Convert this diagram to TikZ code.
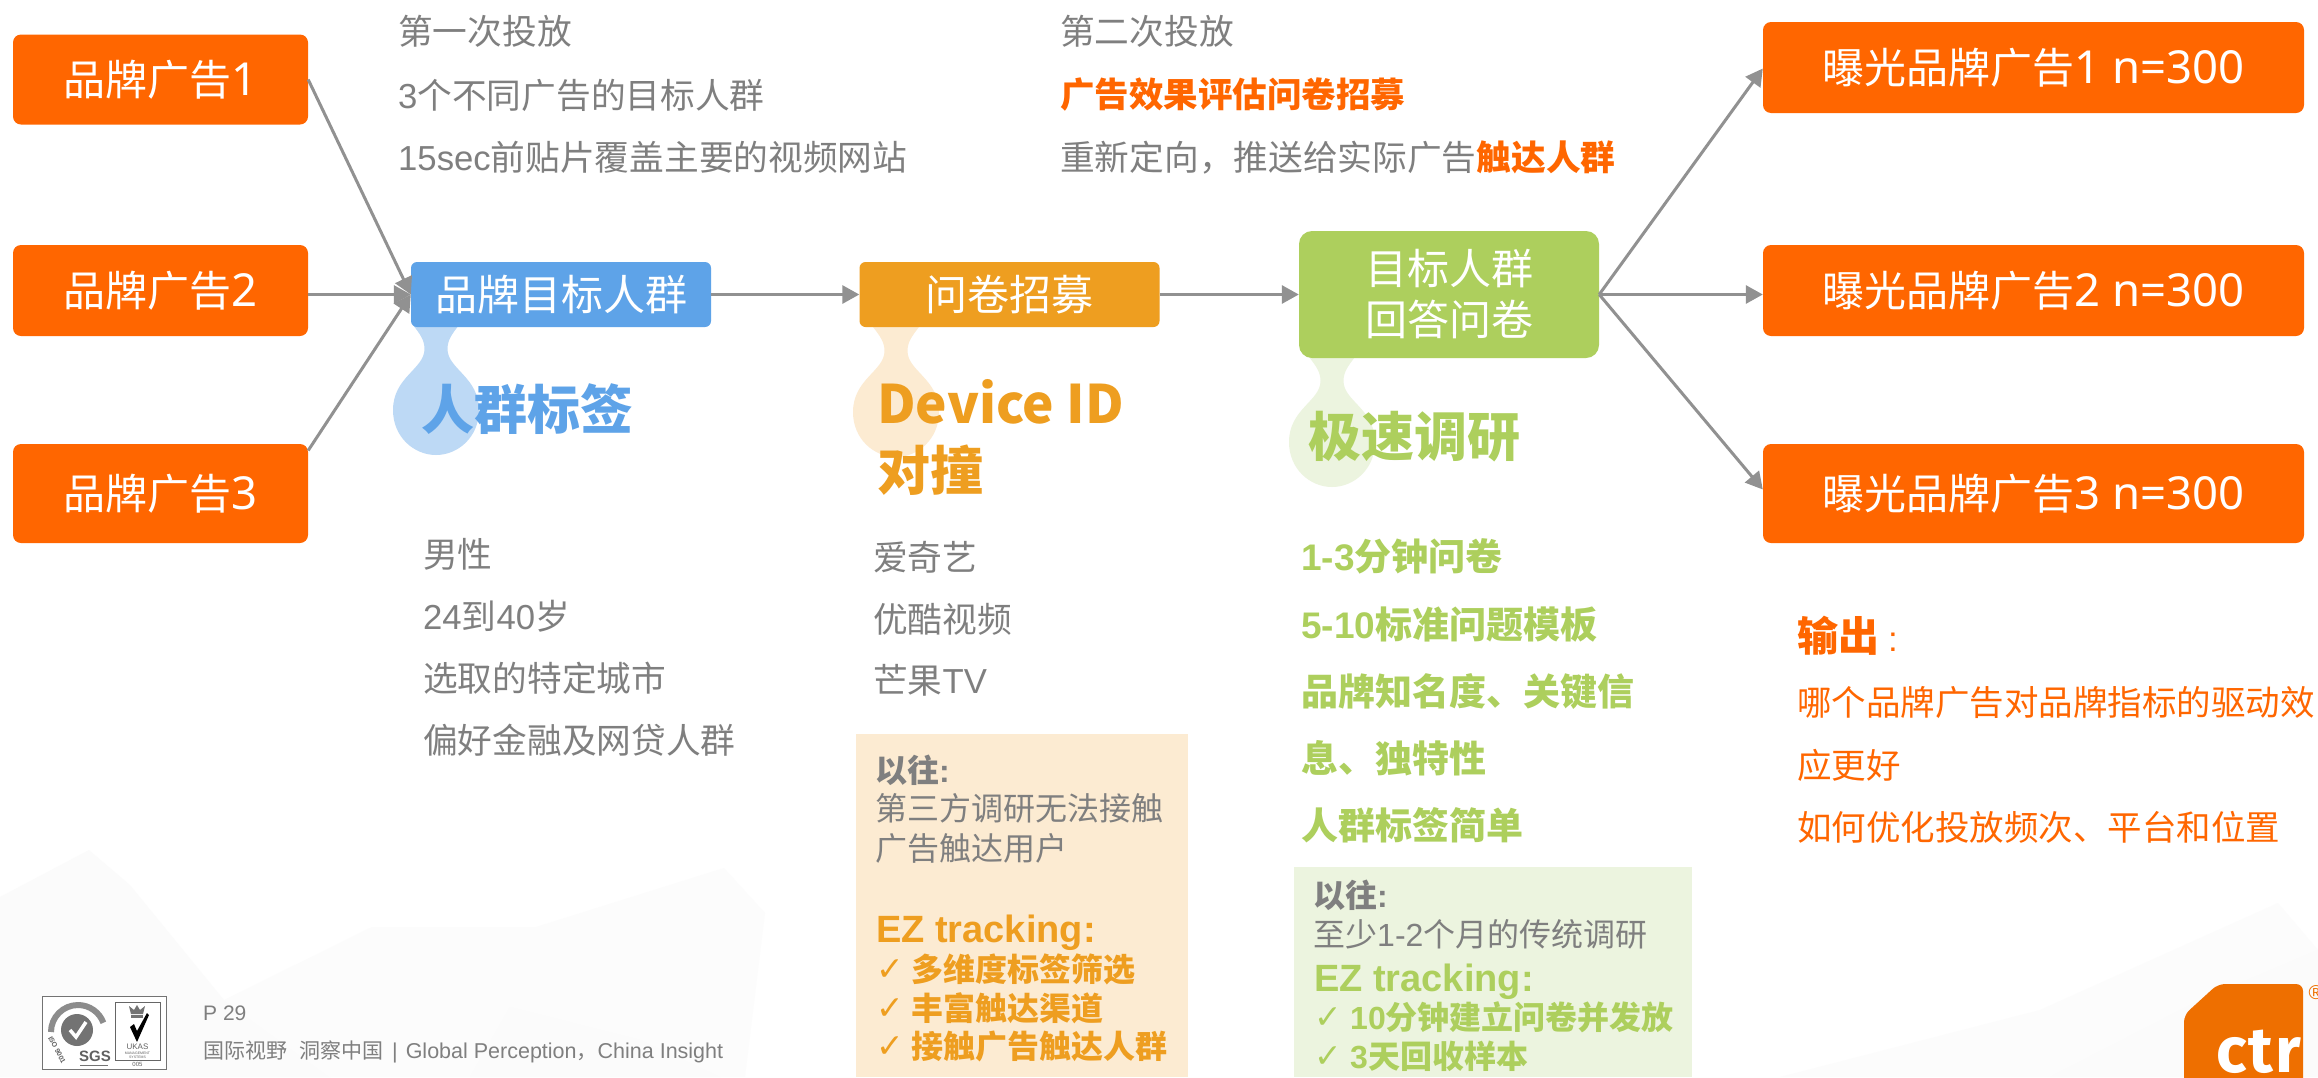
\documentclass[tikz,border=0pt]{standalone}
\usepackage{fontspec}
\setmainfont{Noto Sans CJK SC}
\newfontfamily\arialf{Liberation Sans}
\newfontfamily\notof{Noto Sans}
\newfontfamily\dejaf{DejaVu Sans}
\newfontfamily\firaf{Fira Sans}
\usetikzlibrary{arrows.meta}
\newcommand\fsz[1]{\fontsize{#1}{#1}\selectfont}
\newcommand\lat[1]{{\arialf #1}}
\newcommand\nlat[1]{{\notof\fsz{45.5}#1}}
\definecolor{cOrange}{HTML}{FF6600}
\definecolor{cBlue}{HTML}{5EA3E8}
\definecolor{cAmber}{HTML}{EE9E20}
\definecolor{cGreen}{HTML}{ADCF5D}
\definecolor{cBlueL}{HTML}{BDD9F5}
\definecolor{cAmberL}{HTML}{FCEBD2}
\definecolor{cGreenL}{HTML}{ECF4DF}
\definecolor{cGray}{HTML}{7F7F7F}
\definecolor{cLine}{HTML}{919191}
\definecolor{cLogo}{HTML}{EE6F00}
\tikzset{
  flowbox/.style={inner sep=0,text=white,font=\fsz{42},align=center},
  obox/.style={flowbox,fill=cOrange,rounded corners=8pt},
  conn/.style={draw=cLine,line width=3pt,-{Triangle[length=17pt,width=18pt]},shorten <=0pt},
  txt/.style={anchor=west,inner sep=0,execute at begin node=\vphantom{\normalfont 国}},
  gtxt/.style={txt,text=cGray,font=\fsz{34.7}},
  otxt/.style={txt,text=cOrange,font=\fsz{34.5}},
  ohead/.style={txt,text=cOrange,font=\fsz{34.5}\bfseries},
  gbold/.style={txt,text=cGreen,font=\fsz{37}\bfseries},
  label/.style={txt,font=\fsz{53}\bfseries},
  small/.style={txt,text=cGray,font=\fsz{32}},
  smallb/.style={txt,text=cGray,font=\fsz{32}\bfseries},
  ez/.style={txt,font=\fsz{38}\bfseries\arialf},
  chk/.style={txt,font=\fsz{33}\dejaf},
  ckt/.style={txt,font=\fsz{32}\bfseries},
  foot/.style={txt,text=cGray,font=\fsz{21}},
  bgA/.style={fill=black!1.6},
  bgB/.style={fill=black!1},
  logog/.style={inner sep=0,text=black!62},
}
\newcommand\dropshape{(-23,0) .. controls (-16,9) and (-11.5,15) .. (-11.5,24)
  .. controls (-11.5,44) and (-43,52) .. (-43,85) .. controls (-43,112) and (-22,130) .. (0,130)
  .. controls (22,130) and (43,112) .. (43,85) .. controls (43,52) and (11.5,44) .. (11.5,24)
  .. controls (11.5,15) and (16,9) .. (23,0) -- cycle}
\begin{document}
\begin{tikzpicture}[x=1pt,y=-1pt]
\path[use as bounding box,fill=white] (0,0) rectangle (2318,1077);
% faint background facets
\fill[bgA] (0,897) -- (89,850) -- (130,885) -- (224,1000) -- (330,1077) -- (0,1077) -- cycle;
\fill[bgB] (224,1000) -- (372,927) -- (536,927) -- (724,868) -- (765,913) -- (745,1077) -- (330,1077) -- cycle;
\fill[bgA] (510,1007) -- (640,1040) -- (720,1077) -- (470,1077) -- cycle;
\fill[bgB] (1780,1077) -- (2040,1010) -- (2278,903) -- (2318,950) -- (2318,1077) -- cycle;
\fill[bgA] (2050,1077) -- (2200,1000) -- (2318,950) -- (2318,1077) -- cycle;
% drops
\fill[cBlueL,shift={(436,325)}] \dropshape;
\fill[cAmberL,shift={(896,327)}] \dropshape;
\fill[cGreenL,shift={(1332,357)}] \dropshape;
% pale panels
\fill[cAmberL] (856,734) rectangle (1188,1077);
\fill[cGreenL] (1294,867) rectangle (1692,1077);
% boxes
\node[obox,minimum width=295pt,minimum height=90pt] (b1) at (160.5,79.5) {品牌广告\nlat{1}};
\node[obox,minimum width=295pt,minimum height=91pt] (b2) at (160.5,290.5) {品牌广告\nlat{2}};
\node[obox,minimum width=295pt,minimum height=99pt] (b3) at (160.5,493.5) {品牌广告\nlat{3}};
\node[flowbox,fill=cBlue,rounded corners=6pt,minimum width=300pt,minimum height=65pt] (blue) at (561,294.5) {品牌目标人群};
\node[flowbox,fill=cAmber,rounded corners=6pt,minimum width=300pt,minimum height=65pt] (amber) at (1009.5,294.5) {问卷招募};
\node[flowbox,fill=cGreen,rounded corners=13pt,minimum width=300pt,minimum height=127pt] (green) at (1449,294.5) {目标人群\\[9pt]回答问卷};
\node[obox,minimum width=541pt,minimum height=91pt] (r1) at (2033.5,67.5) {曝光品牌广告\nlat{1 n=300}};
\node[obox,minimum width=541pt,minimum height=91pt] (r2) at (2033.5,290.5) {曝光品牌广告\nlat{2 n=300}};
\node[obox,minimum width=541pt,minimum height=99pt] (r3) at (2033.5,493.5) {曝光品牌广告\nlat{3 n=300}};
% connectors
\draw[conn] (b1.east) -- (blue.west);
\draw[conn] (b2.east |- blue.west) -- (blue.west);
\draw[conn] ([yshift=43pt]b3.east) -- (blue.west);
\draw[conn] (blue.east) -- (amber.west);
\draw[conn] (amber.east) -- (green.west);
\draw[conn] (green.east) -- ([yshift=-1pt]r1.west);
\draw[conn] (green.east) -- (r2.west |- green.east);
\draw[conn] (green.east) -- ([yshift=4pt]r3.west);
% top notes
\node[gtxt] (t11) at (398,31) {第一次投放};
\node[gtxt] (t12) at (398,95) {\lat{3}个不同广告的目标人群};
\node[gtxt] (t13) at (398,157) {\lat{15sec}前贴片覆盖主要的视频网站};
\node[gtxt] (t21) at (1060,31) {第二次投放};
\node[ohead] (t22) at (1060,95) {广告效果评估问卷招募};
\node[gtxt] (t23) at (1060,157) {重新定向，推送给实际广告{\bfseries\color{cOrange}触达人群}};
% labels
\node[label,text=cBlue] (l1) at (421,409) {人群标签};
\node[label,text=cAmber] (l2a) at (877,404) {Device ID};
\node[label,text=cAmber] (l2b) at (877,470) {对撞};
\node[label,text=cGreen] (l3) at (1308,437) {极速调研};
% lists
\node[gtxt] (a1) at (423,554) {男性};
\node[gtxt] (a2) at (423,616) {\lat{24}到\lat{40}岁};
\node[gtxt] (a3) at (423,678) {选取的特定城市};
\node[gtxt] (a4) at (423,740) {偏好金融及网贷人群};
\node[gtxt] (c1) at (873,557) {爱奇艺};
\node[gtxt] (c2) at (873,619) {优酷视频};
\node[gtxt] (c3) at (873,680) {芒果\lat{TV}};
\node[gbold] (g1) at (1301,556) {\lat{1-3}分钟问卷};
\node[gbold] (g2) at (1301,625) {\lat{5-10}标准问题模板};
\node[gbold] (g3) at (1301,692) {品牌知名度、关键信};
\node[gbold] (g4) at (1301,758) {息、独特性};
\node[gbold] (g5) at (1301,825) {人群标签简单};
% amber panel
\node[smallb] (p1) at (875,770) {以往\lat{:}};
\node[small] (p2) at (875,808) {第三方调研无法接触};
\node[small] (p3) at (875,848) {广告触达用户};
\node[ez,text=cAmber] (p4) at (876,931) {EZ tracking:};
\node[chk,text=cAmber] (p5c) at (876,969) {✓};
\node[ckt,text=cAmber] (p5) at (911,969) {多维度标签筛选};
\node[chk,text=cAmber] (p6c) at (876,1008) {✓};
\node[ckt,text=cAmber] (p6) at (911,1008) {丰富触达渠道};
\node[chk,text=cAmber] (p7c) at (876,1046) {✓};
\node[ckt,text=cAmber] (p7) at (911,1046) {接触广告触达人群};
% green panel
\node[smallb] (q1) at (1313,895) {以往\lat{:}};
\node[small] (q2) at (1313,934) {至少\lat{1-2}个月的传统调研};
\node[ez,text=cGreen] (q3) at (1314,980) {EZ tracking:};
\node[chk,text=cGreen] (q4c) at (1314,1017) {✓};
\node[ckt,text=cGreen] (q4) at (1350,1017) {\lat{10}分钟建立问卷并发放};
\node[chk,text=cGreen] (q5c) at (1314,1056) {✓};
\node[ckt,text=cGreen] (q5) at (1350,1056) {\lat{3}天回收样本};
% output
\node[txt,text=cOrange,font=\fsz{41}\bfseries] (o0) at (1797,636) {输出\hspace{9pt}{\mdseries\arialf\fsz{35}:}};
\node[otxt] (o1) at (1797,702) {哪个品牌广告对品牌指标的驱动效};
\node[otxt] (o2) at (1797,765) {应更好};
\node[otxt] (o3) at (1797,827) {如何优化投放频次、平台和位置};
% footer
\node[foot] (f1) at (203,1013) {\lat{P 29}};
\node[foot] (f2) at (203,1052) {国际视野\hspace{12pt}洞察中国\lat{\fsz{21.5} \hspace{3pt}|\hspace{8pt}Global Perception}，\lat{\fsz{21.5}China Insight}};
% certification logo
\draw[black!55,line width=1pt,fill=white] (42,996) rectangle (166,1069);
\draw[black!45,line width=6pt] (51,1032) arc[start angle=180,end angle=340,radius=27];
\fill[black!55] (77,1030) circle[radius=16];
\draw[white,line width=3.5pt] (70,1030) -- (76,1037) -- (86,1022);
\node[logog,font=\fsz{7}\arialf\bfseries,rotate=-62] (iso) at (57,1050) {ISO 9001};
\node[logog,font=\fsz{15}\arialf\bfseries] (sgs) at (95,1056) {SGS};
\draw[black!55,line width=.7pt] (80,1065) -- (108,1065);
\draw[black!60,line width=.8pt,fill=white] (115,1002) rectangle (160,1060);
\fill[black!55] (131,1014) -- (129,1006) -- (134,1010) -- (137,1005) -- (140,1010) -- (145,1006) -- (143,1014) -- cycle;
\fill[black!55] (131,1015) rectangle (143,1018);
\fill[black] (130,1027) -- (134,1024) -- (137,1031) -- (147,1013) -- (149,1015) -- (137,1042) -- cycle;
\node[logog,font=\fsz{8}\arialf] (ukas) at (137.5,1047) {UKAS};
\node[logog,font=\fsz{3.5}\arialf] (mgmt) at (137.5,1053) {MANAGEMENT};
\node[logog,font=\fsz{3.5}\arialf] (syst) at (137.5,1057) {SYSTEMS};
\node[logog,font=\fsz{6}\arialf] (n005) at (137.5,1064.5) {005};
% ctr logo
\fill[cLogo,rounded corners=7pt] (2184,1090) -- (2184,1015) -- (2218,984) -- (2303,984) -- (2303,1090) -- cycle;
\node[inner sep=0,anchor=base west,text=white,font=\fsz{64}\firaf\bfseries] (ctr) at (2216,1072) {c\hspace{2pt}t\hspace{2pt}r};
\node[inner sep=0,anchor=center,text=cLogo,font=\fsz{20}\arialf] (reg) at (2316,993) {®};
\end{tikzpicture}
\end{document}
